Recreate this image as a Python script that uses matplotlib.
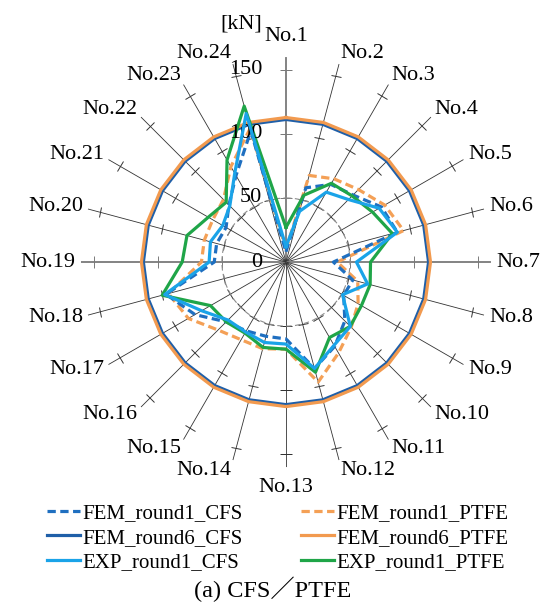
import numpy as np
import matplotlib
matplotlib.use('Agg')
import matplotlib.pyplot as plt
from matplotlib.markers import MarkerStyle
from matplotlib.transforms import Affine2D

plt.rcParams['font.family'] = ['Liberation Serif', 'Noto Sans CJK JP']
plt.rcParams['font.size'] = 16

# spoke names
cats = ['No.%d' % i for i in range(1, 25)]

# loads in kN, No.1 .. No.24
fem1_cfs = [8, 60, 70, 74, 86, 90, 37, 54, 52, 65, 76, 86, 60, 60, 62, 66, 82, 97, 56, 56, 54, 63, 78, 106]
fem6_cfs = [111.3, 111.3, 111.3, 111.3, 111.3, 111.3, 111.3, 111.3, 111.3, 111.3, 111.3, 111.3,
            111.3, 111.3, 111.3, 111.3, 111.3, 111.3, 111.3, 111.3, 111.3, 111.3, 111.3, 111.3]
exp1_cfs = [12, 41, 63, 69, 84, 90, 55, 66, 51, 71, 75, 86, 64, 65, 63, 64, 76, 98, 60, 61, 57, 62, 80, 120]
fem1_ptfe = [10, 70, 75, 80, 89, 95, 40, 58, 65, 72, 82, 97, 68, 70, 70, 75, 88, 95, 66, 66, 66, 69, 86, 108]
fem6_ptfe = [112.8, 112.8, 112.8, 112.8, 112.8, 112.8, 112.8, 112.8, 112.8, 112.8, 112.8, 112.8,
             112.8, 112.8, 112.8, 112.8, 112.8, 112.8, 112.8, 112.8, 112.8, 112.8, 112.8, 112.8]
exp1_ptfe = [27, 54, 71, 73, 78, 86, 66, 68, 68, 71, 68, 89, 68, 69, 64, 66, 68, 100, 81, 80, 70, 66, 92, 126]

rticks = [0, 50, 100, 150]
rmax = 160

n = len(cats)
deg = np.arange(n) * 360.0 / n
theta = np.deg2rad(deg)

fig = plt.figure(figsize=(5.49, 6.05), dpi=100)
ax = fig.add_axes([0.1475, 0.228, 0.7468, 0.6777], projection='polar')
ax.set_theta_zero_location('N')
ax.set_theta_direction(-1)
ax.set_ylim(0, rmax)
ax.set_xticks([])
ax.set_yticks([50])
ax.set_yticklabels([])
ax.xaxis.grid(False)
ax.yaxis.grid(True, color='#8c8c8c', linestyle=(0, (5, 3)), linewidth=0.8)
ax.spines['polar'].set_visible(False)
ax.patch.set_alpha(0)

# spokes with small cross ticks
for i in range(n):
    main = (i % 6 == 0) and i != 12
    col = '#7a7a7a' if main else '#333333'
    lw = 1.3 if main else 0.6
    ax.plot([theta[i], theta[i]], [0, rmax], color=col, lw=lw, zorder=1)
    mk = MarkerStyle('_', transform=Affine2D().rotate_deg(-deg[i]))
    for r in rticks[1:]:
        ax.plot(theta[i], r, marker=mk, ms=8, mew=0.7, color=col, zorder=1)

# radial labels
for r in rticks:
    ax.annotate(str(r), (0, r), xytext=(-17, 0), textcoords='offset points',
                ha='right', va='center', zorder=5)
ax.annotate('[kN]', (0, 186), xytext=(-17, 0), textcoords='offset points',
            ha='right', va='center', annotation_clip=False)

# category labels
for i in range(n):
    s = np.sin(theta[i])
    c = np.cos(theta[i])
    if abs(s) < 0.1:
        ax.text(theta[i], 176, cats[i], ha='center', va='center')
    else:
        ha = 'left' if s > 0 else 'right'
        ax.annotate(cats[i], (theta[i], 164), xytext=(0, 4 * c), textcoords='offset points',
                    ha=ha, va='center', annotation_clip=False)

tc = np.append(theta, theta[0])


def closed(v):
    return np.append(v, v[0])


lw = 2.3
dash = (0, (2.6, 1.4))
series = [
    (fem1_cfs, '#1f6fc0', dash, 'FEM_round1_CFS', 4),
    (fem6_cfs, '#1f5fa8', '-', 'FEM_round6_CFS', 3),
    (exp1_cfs, '#1aa3e8', '-', 'EXP_round1_CFS', 5),
    (fem1_ptfe, '#f4a056', dash, 'FEM_round1_PTFE', 3.5),
    (fem6_ptfe, '#f29a4f', '-', 'FEM_round6_PTFE', 3.2),
    (exp1_ptfe, '#1fa548', '-', 'EXP_round1_PTFE', 4.5),
]
handles = []
for vals, col, ls, lab, z in series:
    h, = ax.plot(tc, closed(vals), color=col, linestyle=ls, lw=lw, label=lab, zorder=z)
    handles.append(h)

fig.legend(handles, [h.get_label() for h in handles], loc='upper center',
           bbox_to_anchor=(0.5055, 0.168), ncol=2, frameon=False, fontsize=15,
           handlelength=1.6, handletextpad=0.1, columnspacing=2.8,
           labelspacing=0.25, borderpad=0, borderaxespad=0)

fig.text(0.496, 0.026, '(a) CFS／PTFE', ha='center', va='center', fontsize=17.5)

fig.savefig('out.png', dpi=100)
